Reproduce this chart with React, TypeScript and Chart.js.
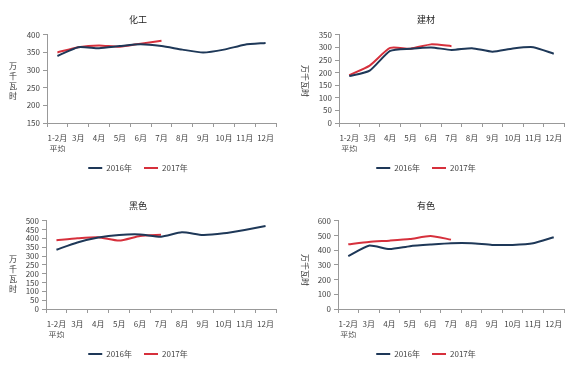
import React, { useEffect, useRef } from "react";
import { Chart, registerables } from "chart.js";

Chart.register(...registerables);

const categories: (string | string[])[] = [["1-2月", "平均"], "3月", "4月", "5月", "6月", "7月", "8月", "9月", "10月", "11月", "12月"];
const seriesNames = ["2016年", "2017年"];
const yUnit = "万千瓦时";

const chemTitle = "化工";
const chem2016 = [340, 365, 362, 368, 373, 368, 358, 350, 358, 372, 377];
const chem2017 = [350, 365, 370, 366, 375, 383];

const buildTitle = "建材";
const build2016 = [186, 208, 286, 295, 300, 290, 297, 283, 296, 301, 275];
const build2017 = [190, 228, 298, 295, 312, 305];

const ferrousTitle = "黑色";
const ferrous2016 = [336, 377, 405, 420, 423, 410, 435, 420, 429, 448, 470];
const ferrous2017 = [390, 401, 407, 388, 414, 421];

const nonferrousTitle = "有色";
const nonferrous2016 = [360, 431, 408, 427, 438, 447, 447, 436, 436, 447, 488];
const nonferrous2017 = [440, 456, 465, 476, 496, 472];

const C2016 = "#1E3858";
const C2017 = "#D6303C";
const FONT = '"Noto Sans CJK SC", "DejaVu Sans", sans-serif';

const yTitlePlugin = {
  id: "yTitle",
  afterDraw(chart: any, _args: any, opts: any) {
    const ctx = chart.ctx;
    ctx.save();
    ctx.font = `8px ${FONT}`;
    ctx.fillStyle = "#333";
    ctx.textAlign = "center";
    ctx.textBaseline = "middle";
    if (opts.rotate) {
      ctx.translate(opts.x, opts.y);
      ctx.rotate(Math.PI / 2);
      ctx.fillText(opts.text, 0, 0);
    } else {
      const chars = Array.from(opts.text as string);
      const start = opts.y - ((chars.length - 1) * opts.step) / 2;
      chars.forEach((c, i) => ctx.fillText(c, opts.x, start + i * opts.step));
    }
    ctx.restore();
  },
};

type PanelProps = {
  title: string;
  d16: number[];
  d17: number[];
  min: number;
  max: number;
  step: number;
  axisW: number;
  rotate: boolean;
  labelX: number;
  labelY: number;
  left: number;
  top: number;
};

function Panel(p: PanelProps) {
  const ref = useRef<HTMLCanvasElement>(null);
  useEffect(() => {
    if (!ref.current) return;
    const chart = new Chart(ref.current, {
      type: "line",
      data: {
        labels: categories,
        datasets: [
          { label: seriesNames[0], data: p.d16, borderColor: C2016, backgroundColor: C2016, borderWidth: 2, pointRadius: 0, tension: 0.2 },
          { label: seriesNames[1], data: p.d17, borderColor: C2017, backgroundColor: C2017, borderWidth: 2, pointRadius: 0, tension: 0.2 },
        ],
      },
      options: {
        animation: false,
        responsive: false,
        layout: { padding: { left: 0, right: 12, top: 0, bottom: 4 } },
        plugins: {
          title: {
            display: true,
            text: p.title,
            color: "#222",
            font: { family: FONT, size: 9, weight: "normal" },
            padding: { top: 14, bottom: 10 },
          },
          legend: {
            position: "bottom",
            labels: {
              usePointStyle: true,
              pointStyle: "line",
              pointStyleWidth: 14,
              boxHeight: 8,
              padding: 12,
              color: "#444",
              font: { family: FONT, size: 8 },
            },
          },
          tooltip: { enabled: false },
          yTitle: { text: yUnit, rotate: p.rotate, x: p.labelX, y: p.labelY, step: 10 },
        } as any,
        scales: {
          x: {
            offset: true,
            grid: { offset: true, drawOnChartArea: false, drawTicks: true, tickLength: 4, color: "#999" },
            border: { color: "#999" },
            ticks: { color: "#444", font: { family: FONT, size: 8, lineHeight: 1.35 }, maxRotation: 0, autoSkip: false, padding: 6 },
            afterFit: (s: any) => { s.height = 29; },
          },
          y: {
            min: p.min,
            max: p.max,
            grid: { drawOnChartArea: false, drawTicks: true, tickLength: 4, color: "#999" },
            border: { color: "#999" },
            ticks: { stepSize: p.step, autoSkip: false, color: "#444", font: { family: FONT, size: 8 }, padding: 3 },
            afterFit: (s: any) => { s.width = p.axisW; },
          },
        },
      },
      plugins: [yTitlePlugin],
    });
    return () => chart.destroy();
  }, []);
  return (
    <div style={{ position: "absolute", left: p.left, top: p.top, width: 288, height: 186 }}>
      <canvas ref={ref} width={288} height={186} style={{ width: 288, height: 186 }} />
    </div>
  );
}

export default function App() {
  return (
    <div style={{ position: "fixed", left: 0, top: 0, width: 576, height: 372, background: "#fff" }}>
      <Panel title={chemTitle} d16={chem2016} d17={chem2017} min={150} max={400} step={50} axisW={47} rotate={false} labelX={13} labelY={81} left={0} top={0} />
      <Panel title={buildTitle} d16={build2016} d17={build2017} min={0} max={350} step={50} axisW={51} rotate={true} labelX={17} labelY={81} left={288} top={0} />
      <Panel title={ferrousTitle} d16={ferrous2016} d17={ferrous2017} min={0} max={500} step={50} axisW={46} rotate={false} labelX={13} labelY={88} left={0} top={186} />
      <Panel title={nonferrousTitle} d16={nonferrous2016} d17={nonferrous2017} min={0} max={600} step={100} axisW={50} rotate={true} labelX={17} labelY={84} left={288} top={186} />
    </div>
  );
}
